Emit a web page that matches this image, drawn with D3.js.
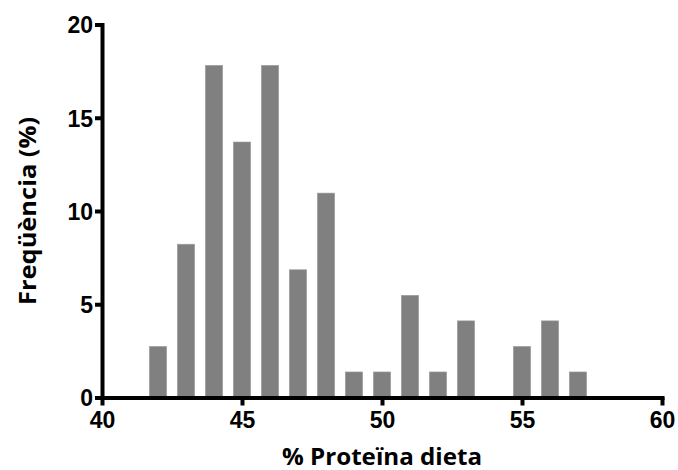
<!DOCTYPE html>
<meta charset="utf-8">
<style>
body { margin: 0; background: #fff; }
.axis path, .axis line { stroke: #000; stroke-width: 4px; }
.axis text { font-family: "Liberation Sans", Arial, sans-serif; font-weight: bold; font-size: 23px; fill: #000; }
.title { font-family: "Open Sans", sans-serif; font-weight: bold; font-size: 24px; fill: #000; }
</style>
<svg width="678" height="470"></svg>
<script src="https://cdnjs.cloudflare.com/ajax/libs/d3/7.8.5/d3.min.js"></script>
<script>

var bins = [42, 43, 44, 45, 46, 47, 48, 49, 50, 51, 52, 53, 55, 56, 57];
var freq = [2.74, 8.22, 17.81, 13.70, 17.81, 6.85, 10.96, 1.37, 1.37, 5.48, 1.37, 4.11, 2.74, 4.11, 1.37];
var xTicks = [40, 45, 50, 55, 60];
var yTicks = [0, 5, 10, 15, 20];

var svg = d3.select("svg");

var x = d3.scaleLinear().domain([40, 60]).range([102, 662]);
var y = d3.scaleLinear().domain([0, 20]).range([397.5, 24.5]);
var barW = 0.62;

svg.append("g")
  .selectAll("rect")
  .data(bins)
  .enter().append("rect")
    .attr("x", function(d) { return x(d - barW / 2); })
    .attr("width", function() { return x(40 + barW) - x(40); })
    .attr("y", function(d, i) { return y(freq[i]); })
    .attr("height", function(d, i) { return y(0) - y(freq[i]); })
    .attr("fill", "#808080")
    .attr("stroke", "#a0a0a0")
    .attr("stroke-width", 0.6);

var xAxis = svg.append("g")
    .attr("class", "axis")
    .attr("transform", "translate(0," + y(0) + ")")
    .call(d3.axisBottom(x).tickValues(xTicks).tickSize(8).tickSizeOuter(0).tickPadding(6));

var yAxis = svg.append("g")
    .attr("class", "axis")
    .attr("transform", "translate(" + x(40) + ",0)")
    .call(d3.axisLeft(y).tickValues(yTicks).tickSize(7).tickSizeOuter(0).tickPadding(2));

xAxis.selectAll("text").attr("dy", "0.72em");
yAxis.selectAll("text").attr("dy", "0.36em");
svg.selectAll(".axis path").attr("stroke-linecap", "square");

svg.append("text")
    .attr("class", "title")
    .attr("x", x(50))
    .attr("y", 465)
    .attr("text-anchor", "middle")
    .attr("textLength", 200)
    .attr("lengthAdjust", "spacingAndGlyphs")
    .text("% Proteïna dieta");

svg.append("text")
    .attr("class", "title")
    .attr("transform", "translate(36," + y(10) + ") rotate(-90)")
    .attr("text-anchor", "middle")
    .attr("textLength", 188)
    .attr("lengthAdjust", "spacingAndGlyphs")
    .text("Freqüència (%)");

</script>
